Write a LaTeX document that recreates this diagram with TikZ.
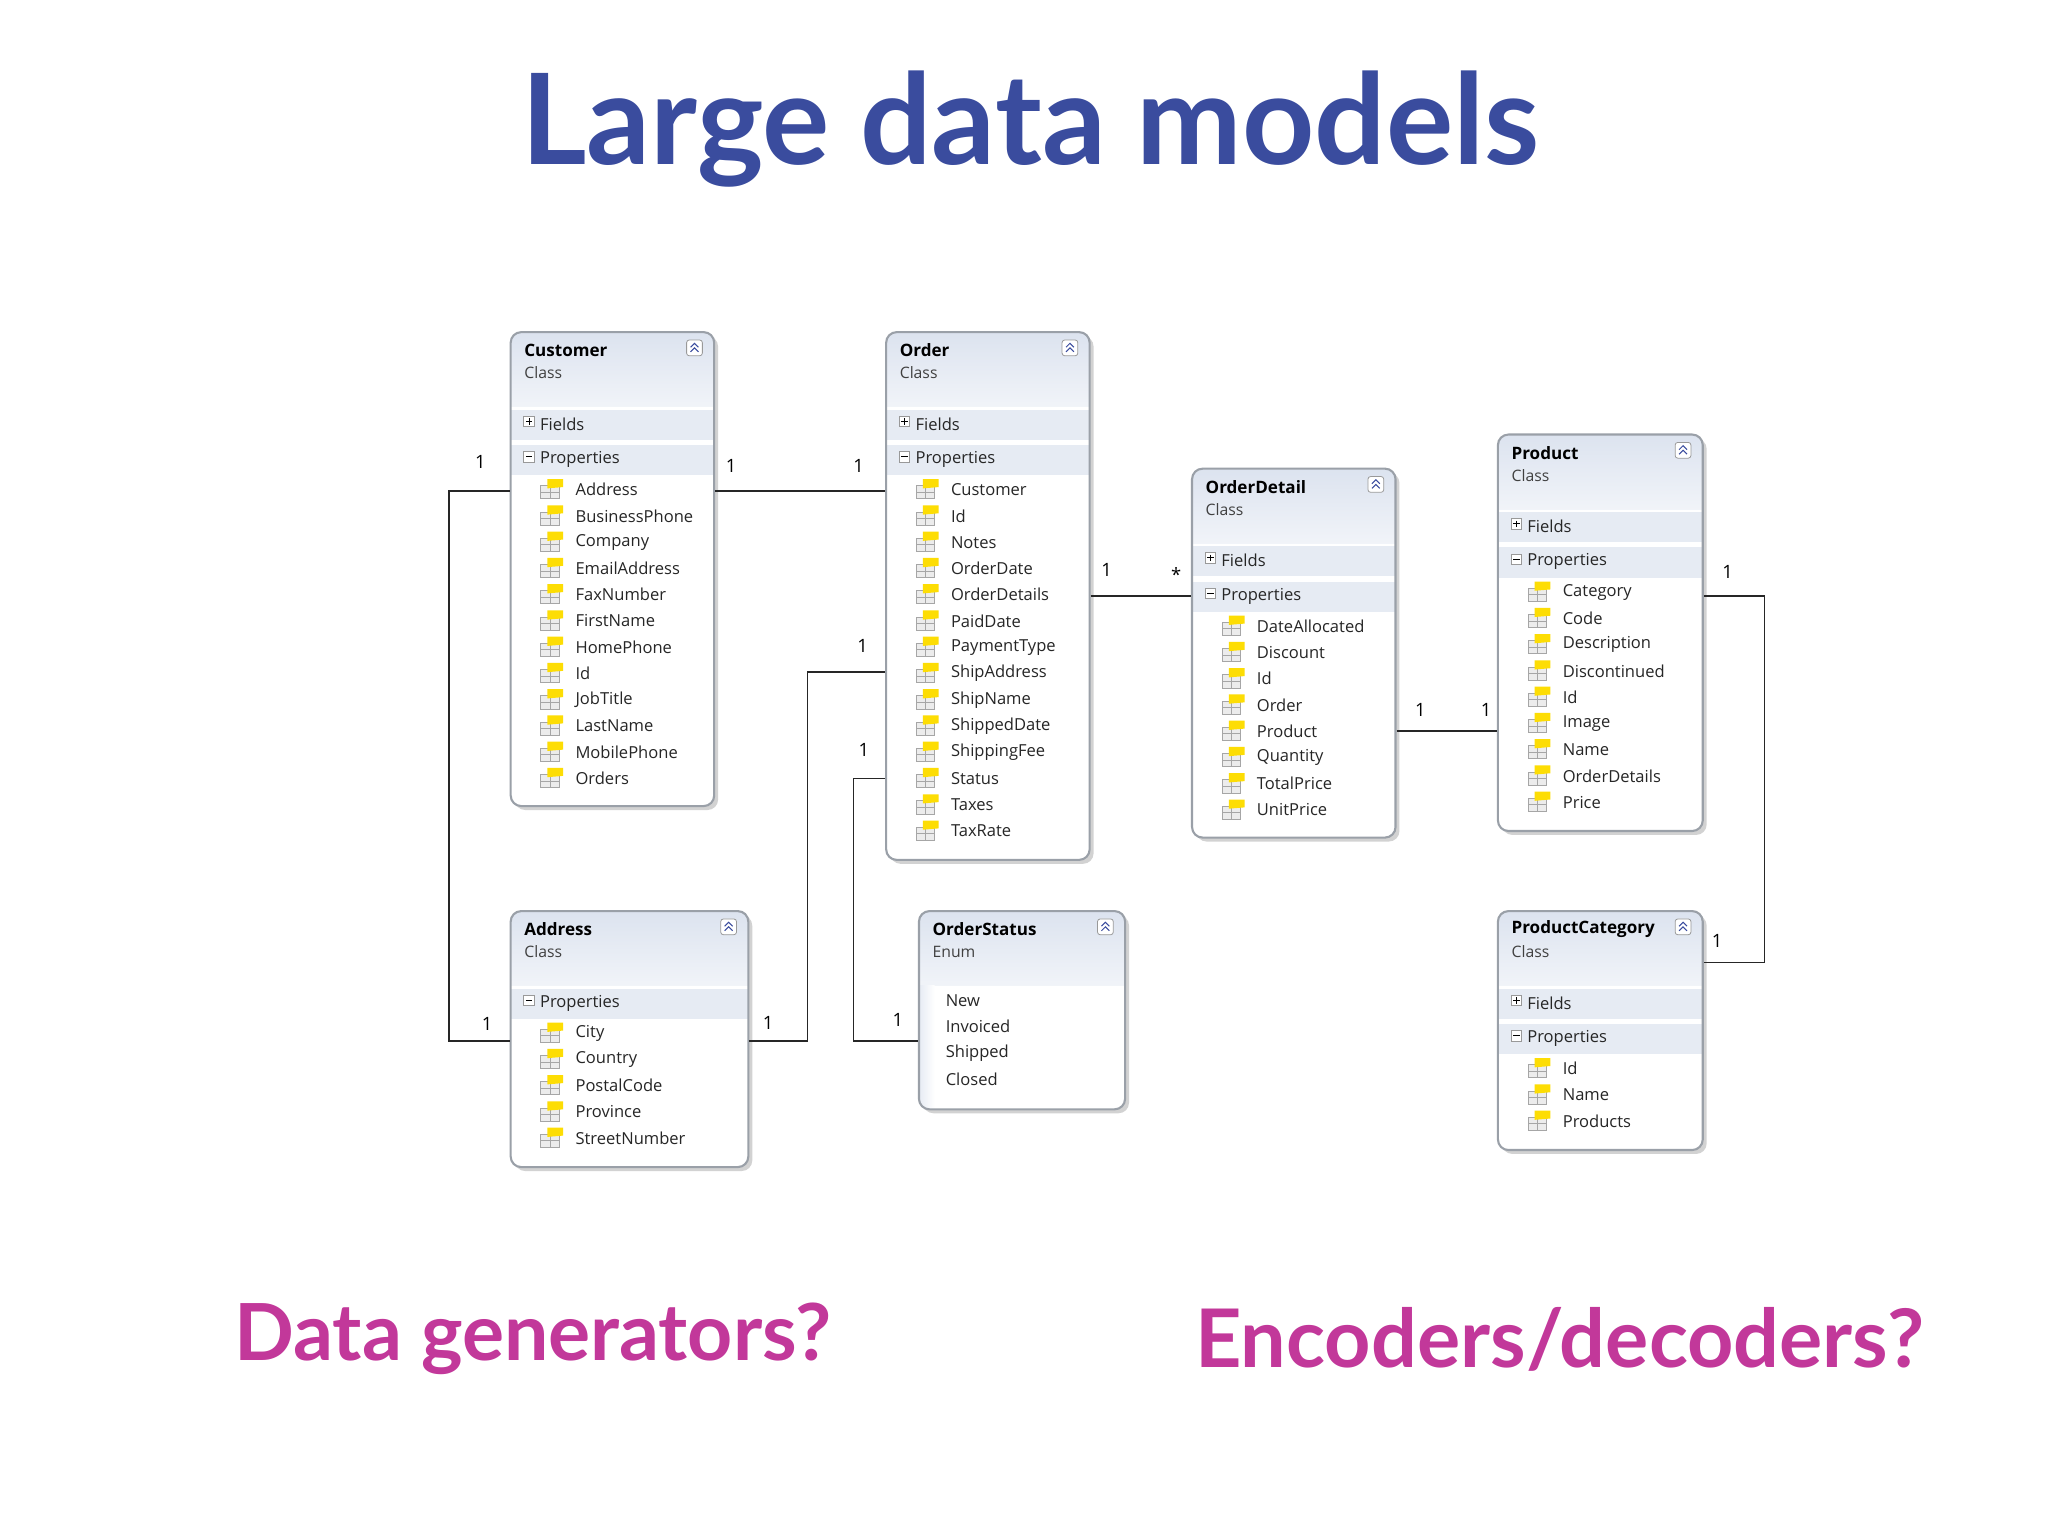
\documentclass[tikz,border=0pt]{standalone}
\usepackage{fontspec}
\setmainfont{Open Sans}
\newfontfamily\titlefont{Lato}
\usetikzlibrary{fit}
\definecolor{ttl}{HTML}{3A4C9E}
\definecolor{mag}{HTML}{C2389A}
\definecolor{hdr}{HTML}{DCE3EF}
\definecolor{row}{HTML}{E6EBF3}
\definecolor{bord}{HTML}{9AA0A8}
\tikzset{
  x=0.5pt,y=-0.5pt,
  lbl/.style={font=\fontsize{7}{8}\selectfont,inner sep=0},
  itm/.style={font=\fontsize{6.3}{8}\selectfont,anchor=west,inner sep=0,text=black!85},
  hd/.style={font=\bfseries\fontsize{6.5}{8}\selectfont,anchor=west,inner sep=0},
  sub/.style={font=\fontsize{6}{8}\selectfont,anchor=west,inner sep=0,text=black!75},
  conn/.style={draw=black!85,line width=0.6pt},
  box/.style={draw=bord,line width=0.8pt,rounded corners=4pt,inner sep=0},
}
\newcommand\icon[2]{%
  \draw[gray!70,fill=gray!15,line width=0.3pt] (#1-9,#2-3) rectangle (#1+5,#2+7);
  \draw[gray!70,line width=0.3pt] (#1-9,#2+2) -- (#1+5,#2+2) (#1-2,#2-3)--(#1-2,#2+7);
  \fill[yellow!80!orange] (#1-4,#2-8) -- (#1+8,#2-8) -- (#1+8,#2-2) -- (#1-4,#2-1) -- cycle;
}
\newcommand\pmbox[3]{% x y sign
  \draw[gray!80,fill=white,line width=0.3pt] (#1-4,#2-4) rectangle (#1+4,#2+4);
  \draw[black,line width=0.4pt] (#1-2.5,#2) -- (#1+2.5,#2);
  \ifnum#3=1 \draw[black,line width=0.4pt] (#1,#2-2.5) -- (#1,#2+2.5);\fi
}
\newcommand\collapse[2]{%
  \draw[gray!80,fill=white,rounded corners=1pt,line width=0.3pt] (#1-6,#2-6) rectangle (#1+6,#2+6);
  \draw[ttl,line width=0.4pt] (#1-3,#2-0.5)--(#1,#2-3.5)--(#1+3,#2-0.5) (#1-3,#2+3)--(#1,#2)--(#1+3,#2+3);
}
% name x1 y1 x2 y2 title kind hasfields items
\newcommand\umlbox[9]{%
  \fill[gray!35,rounded corners=4pt] (#2+3,#3+3) rectangle (#4+3,#5+3);
  \begin{scope}
    \clip[rounded corners=4pt] (#2,#3) rectangle (#4,#5);
    \fill[white] (#2,#3) rectangle (#4,#5);
    \shade[top color=hdr,bottom color=hdr!40] (#2,#3) rectangle (#4,#3+57);
    \ifnum#8=1
      \fill[row] (#2,#3+59) rectangle (#4,#3+82);
      \fill[row] (#2,#3+86) rectangle (#4,#3+109);
    \else
      \fill[row] (#2,#3+59) rectangle (#4,#3+82);
    \fi
  \end{scope}
  \node[box,fit={(#2,#3) (#4,#5)}] (#1) {};
  \node[hd] at (#2+10,#3+14) {#6};
  \node[sub] at (#2+10,#3+31) {#7};
  \collapse{#4-15}{#3+12}
  \ifnum#8=1
    \pmbox{#2+14}{#3+68}{1}\node[itm] at (#2+22,#3+70) {Fields};
    \pmbox{#2+14}{#3+95}{0}\node[itm] at (#2+22,#3+97) {Properties};
    \foreach \t [count=\i from 0] in {#9} {\icon{#2+32}{#3+120+20*\i}\node[itm] at (#2+49,#3+120+20*\i) {\t};}
  \else
    \pmbox{#2+14}{#3+68}{0}\node[itm] at (#2+22,#3+70) {Properties};
    \foreach \t [count=\i from 0] in {#9} {\icon{#2+32}{#3+93+20*\i}\node[itm] at (#2+49,#3+93+20*\i) {\t};}
  \fi
}
\begin{document}
\begin{tikzpicture}
\useasboundingbox (0,0) rectangle (1560,1170);
\node[font=\titlefont\bfseries\fontsize{48}{52}\selectfont,text=ttl] (title) at (785,98) {Large data models};
\node[font=\titlefont\bfseries\fontsize{30}{33}\selectfont,text=mag] (dg) at (406,1020) {Data generators?};
\node[font=\titlefont\bfseries\fontsize{30.8}{33}\selectfont,text=mag] (ed) at (1188,1020) {Encoders/decoders?};

\umlbox{cust}{389}{253}{544}{614}{Customer}{Class}{1}{Address,BusinessPhone,Company,EmailAddress,FaxNumber,FirstName,HomePhone,Id,JobTitle,LastName,MobilePhone,Orders}
\umlbox{order}{675}{253}{830}{655}{Order}{Class}{1}{Customer,Id,Notes,OrderDate,OrderDetails,PaidDate,PaymentType,ShipAddress,ShipName,ShippedDate,ShippingFee,Status,Taxes,TaxRate}
\umlbox{od}{908}{357}{1063}{638}{OrderDetail}{Class}{1}{DateAllocated,Discount,Id,Order,Product,Quantity,TotalPrice,UnitPrice}
\umlbox{prod}{1141}{331}{1297}{633}{Product}{Class}{1}{Category,Code,Description,Discontinued,Id,Image,Name,OrderDetails,Price}
\umlbox{addr}{389}{694}{570}{889}{Address}{Class}{0}{City,Country,PostalCode,Province,StreetNumber}
\umlbox{pc}{1141}{694}{1297}{876}{ProductCategory}{Class}{1}{Id,Name,Products}
% OrderStatus enum
\fill[gray!35,rounded corners=4pt] (703,697) rectangle (860,848);
\begin{scope}
  \clip[rounded corners=4pt] (700,694) rectangle (857,845);
  \fill[white] (700,694) rectangle (857,845);
  \shade[top color=hdr,bottom color=hdr!40] (700,694) rectangle (857,751);
  \shade[left color=hdr!70,right color=white] (700,751) rectangle (712,845);
\end{scope}
\node[box,fit={(700,694) (857,845)}] (os) {};
\node[hd] at (710,708) {OrderStatus};
\node[sub] at (710,725) {Enum};
\collapse{842}{706}
\foreach \t [count=\i from 0] in {New,Invoiced,Shipped,Closed} {\node[itm] at (720,762+20*\i) {\t};}

% connectors
\draw[conn] (cust.east |- 0,374) -- (order.west |- 0,374);
\node[lbl] at (557,355) {1}; \node[lbl] at (654,355) {1};
\draw[conn] (cust.west |- 0,374) -- (342,374) -- (342,793) -- (addr.west |- 0,793);
\node[lbl] at (366,352) {1}; \node[lbl] at (371,780) {1};
\draw[conn] (order.east |- 0,454) -- (od.west |- 0,454);
\node[lbl] at (843,434) {1}; \node[lbl] at (896,438) {*};
\draw[conn] (order.west |- 0,512) -- (615,512) -- (615,793) -- (addr.east |- 0,793);
\node[lbl] at (657,492) {1}; \node[lbl] at (585,779) {1};
\draw[conn] (order.west |- 0,593) -- (650,593) -- (650,793) -- (os.west |- 0,793);
\node[lbl] at (658,571) {1}; \node[lbl] at (684,777) {1};
\draw[conn] (od.east |- 0,557) -- (prod.west |- 0,557);
\node[lbl] at (1082,541) {1}; \node[lbl] at (1132,541) {1};
\draw[conn] (prod.east |- 0,454) -- (1344,454) -- (1344,733) -- (pc.east |- 0,733);
\node[lbl] at (1316,436) {1}; \node[lbl] at (1308,717) {1};
\end{tikzpicture}
\end{document}
